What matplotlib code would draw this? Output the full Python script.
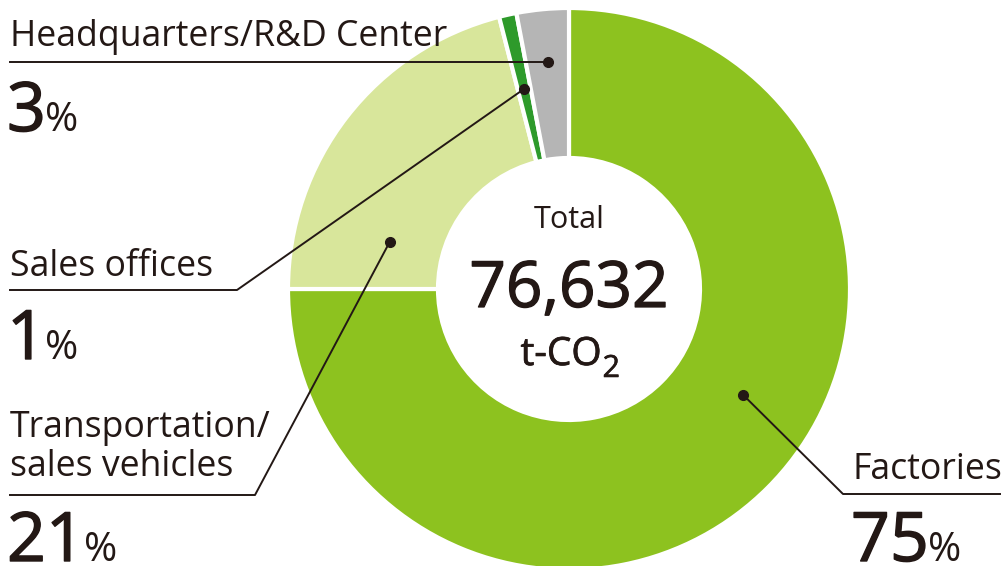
import matplotlib
matplotlib.use("Agg")
import matplotlib.pyplot as plt
import matplotlib.patheffects as pe
import numpy as np

# ---- data ----
categories = ["Factories", "Transportation/\nsales vehicles", "Sales offices", "Headquarters/R&D Center"]
shares = [75, 21, 1, 3]
pct_labels = ["75", "21", "1", "3"]
colors = ["#8DC21F", "#D8E69B", "#2E9A2B", "#B5B5B5"]
total_value = "76,632"
total_unit = "t-CO"
total_unit_sub = "2"
total_title = "Total"

W, H = 1006, 566
TXT = "#231815"
plt.rcParams['font.family'] = ['Open Sans', 'DejaVu Sans']

fig = plt.figure(figsize=(W / 100, H / 100), dpi=100)
ax = fig.add_axes([0, 0, 1, 1])

cx, cy, R = 569, H - 289, 281
r_in = 131
wedges, _ = ax.pie(shares, colors=colors, startangle=90, counterclock=False,
                   center=(cx, cy), radius=R,
                   wedgeprops=dict(width=R - r_in, edgecolor="white", linewidth=3))
ax.set_xlim(0, W)
ax.set_ylim(0, H)
ax.set_aspect("equal")
ax.axis("off")

def heavy(w):
    return [pe.withStroke(linewidth=w, foreground=TXT)]

# center text
ax.text(cx, H - 220, total_title, ha="center", va="center", fontsize=22, color=TXT)
ax.text(cx, H - 290, total_value, ha="center", va="center", fontsize=46, color=TXT,
        path_effects=heavy(0.9))
u = ax.text(cx - 8, H - 365, total_unit, ha="center", va="baseline", fontsize=28, color=TXT,
            path_effects=heavy(0.5))
fig.canvas.draw()
ub = u.get_window_extent()
ax.text(ub.x1 + 1, H - 377, total_unit_sub, ha="left", va="baseline", fontsize=22, color=TXT,
        path_effects=heavy(0.4))

def dot_at(angle_deg, rfrac):
    t = np.deg2rad(angle_deg)
    return cx + R * rfrac * np.cos(t), cy + R * rfrac * np.sin(t)

lw = 1.4
# Headquarters
hx, hy = dot_at(0.5 * (wedges[3].theta1 + wedges[3].theta2), 0.81)
ax.plot([10, hx], [hy, hy], color=TXT, lw=lw)
ax.plot(hx, hy, "o", color=TXT, ms=7)
# Sales offices
sx, sy = dot_at(0.5 * (wedges[2].theta1 + wedges[2].theta2), 0.73)
ax.plot([10, 237, sx], [H - 290, H - 290, sy], color=TXT, lw=lw)
ax.plot(sx, sy, "o", color=TXT, ms=7)
# Transportation
tx, ty = dot_at(165.4, 0.66)
ax.plot([10, 255, tx], [H - 495, H - 495, ty], color=TXT, lw=lw)
ax.plot(tx, ty, "o", color=TXT, ms=7)
# Factories
fx, fy = dot_at(-31.3, 0.725)
ax.plot([fx, 843, 1000], [fy, H - 494, H - 494], color=TXT, lw=lw)
ax.plot(fx, fy, "o", color=TXT, ms=7)

# labels
def label(x, y_base, text):
    ax.text(x, H - y_base, text, ha="left", va="baseline", fontsize=25.7, color=TXT,
            linespacing=1.1)

def pct(x, y_base, num):
    t = ax.text(x, H - y_base, num, ha="left", va="baseline", fontsize=49, color=TXT,
                path_effects=heavy(1.0))
    fig.canvas.draw()
    bb = t.get_window_extent()
    ax.text(bb.x1 - 1, H - y_base, "%", ha="left", va="baseline", fontsize=29, color=TXT)

label(10, 46, categories[3])
pct(7, 131, pct_labels[3])
label(10, 276, categories[2])
pct(7, 359, pct_labels[2])
label(10, 476, categories[1])
pct(7, 561, pct_labels[1])
label(853, 479, categories[0])
pct(851, 561, pct_labels[0])

fig.savefig("out.png", dpi=100, facecolor="white")
